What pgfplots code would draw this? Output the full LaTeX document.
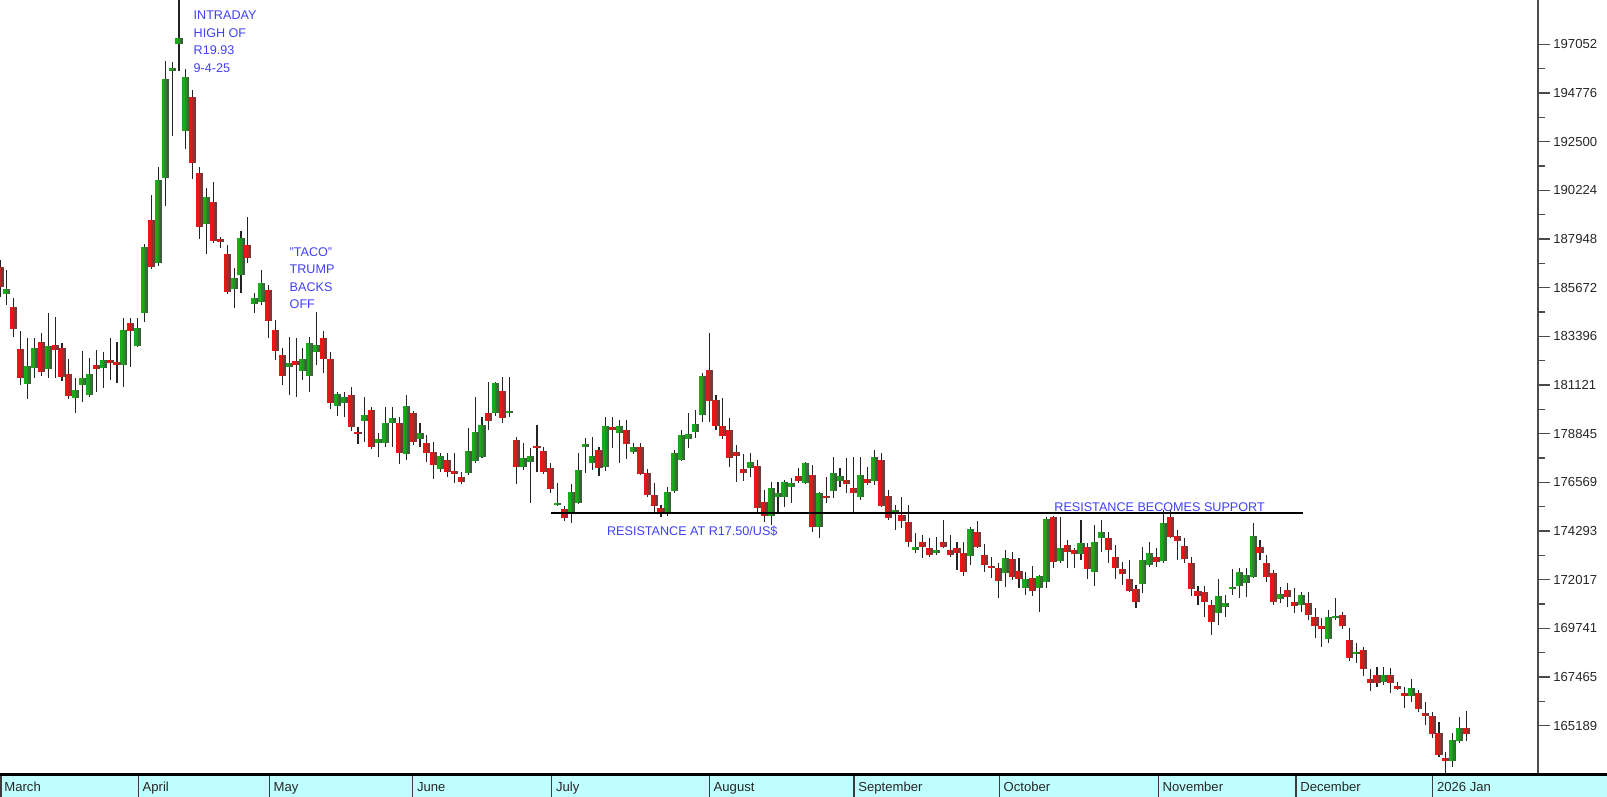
\documentclass[border=0pt]{standalone}
\usepackage{fontspec}
\setmainfont{Liberation Sans}
\usepackage{pgfplots}
\usepackage{pgfplotstable}
\pgfplotsset{compat=1.18}
\definecolor{upC}{RGB}{24,172,24}
\definecolor{dnC}{RGB}{238,20,20}
\definecolor{shadeC}{RGB}{72,72,72}
\definecolor{wickC}{RGB}{35,35,35}
\definecolor{bandC}{RGB}{192,255,255}
\definecolor{annC}{RGB}{64,64,250}
\definecolor{sepC}{RGB}{60,60,60}

\pgfplotstableread{
i o h l c
0 186635 186962 185232 185700
1 185373 186495 184858 185606
2 184765 185186 183362 183736
3 182801 183642 181117 181445
4 181164 183315 180463 182006
5 181912 183315 181445 182848
6 183128 183549 181540 181725
7 181866 184484 181445 182941
8 182988 184297 181445 182754
9 182848 183081 181304 181491
10 181632 182333 180463 180603
11 180510 181445 179808 180884
12 181117 182707 180322 181445
13 180650 182380 180556 181632
14 182053 182754 180790 181866
15 181912 182660 180977 182286
16 182286 183315 181351 182146
17 182193 183128 181211 182053
18 182053 184250 181024 183689
19 184017 184250 181959 183642
20 182941 184250 182894 183783
21 184484 187711 184063 187570
22 188833 190002 186542 186635
23 186822 191311 186700 190703
24 190797 196268 189487 195426
25 195800 196221 192761 195940
26 197063 199300 195800 197343
27 192994 195894 192153 195519
28 194584 194912 190750 191498
29 191031 191311 187944 188505
30 188646 190329 187243 189908
31 189674 190610 187757 187851
32 187944 188038 187524 187804
33 187243 187664 185373 185466
34 185606 186588 184718 186121
35 186261 188318 185419 187991
36 187664 188973 186822 187056
37 184905 185419 184484 185186
38 184998 186495 184858 185887
39 185560 185793 183315 184110
40 183689 184157 182286 182707
41 182520 182848 181117 181538
42 181959 183362 180650 182146
43 182240 183315 180556 182053
44 181772 182848 181351 182333
45 181538 183362 180790 183081
46 182660 184531 182053 182988
47 183315 183642 181678 182333
48 182333 182660 179995 180276
49 180135 180790 179668 180697
50 180276 180790 179621 180556
51 180650 181024 178966 179153
52 178920 179153 178359 178826
53 179434 180556 178452 179715
54 179948 180089 178125 178218
55 178405 178873 177751 178592
56 178405 180089 178218 179341
57 179341 180089 178218 179574
58 179341 179621 177423 177938
59 177891 180650 177610 180135
60 179808 179902 178312 178452
61 178592 179341 178218 178873
62 178405 178779 177517 177938
63 177984 178452 176722 177377
64 177190 177938 177049 177797
65 177610 177938 176815 177049
66 177096 177938 176535 176956
67 176815 177049 176490 176582
68 177003 179107 176900 178031
69 177564 180556 177470 178920
70 177751 179621 177704 179247
71 179808 181258 179013 179434
72 179808 181258 179668 181211
73 180837 181491 179341 179574
74 179808 181491 179621 179902
75 178546 178686 176488 177283
76 177283 178405 177143 177704
77 177517 178172 175600 177797
78 178265 179247 177049 178172
79 178031 178218 176960 177049
80 177236 177470 176067 176254
81 175506 176535 175460 175600
82 175319 175459 174758 174898
83 175132 176488 174665 176114
84 175600 177938 175550 177143
85 178218 178639 177003 178359
86 177470 178686 177143 177797
87 178078 178218 176862 177236
88 177283 179621 177096 179200
89 179153 179621 178172 179013
90 178873 179481 177470 179200
91 179013 179481 177657 178359
92 177984 178405 177891 178218
93 178218 178405 176900 176956
94 177003 177190 175880 175974
95 175974 176535 175179 175459
96 175366 175506 174945 175085
97 175085 176348 174992 176114
98 176161 178078 176067 177938
99 177610 179013 177564 178779
100 178592 179808 178172 178826
101 178920 179948 178639 179294
102 179715 181678 179387 181538
103 181819 183549 179387 180369
104 180416 180650 179013 179200
105 179200 180510 178592 178733
106 179013 179574 177283 177704
107 177984 178312 176582 177797
108 177190 177891 176628 177003
109 177236 177938 176815 177517
110 177330 177610 175132 175366
111 175646 176208 174711 174992
112 174992 176582 174571 176301
113 175880 176582 175179 176067
114 175880 176675 175413 176582
115 176348 176769 175600 176535
116 176862 177236 176535 176628
117 176535 177517 176490 177470
118 176909 177377 174244 174477
119 174477 176114 173963 176067
120 175927 176815 175600 175834
121 176161 177751 175834 177003
122 176628 177236 176348 176862
123 176675 177704 176067 176488
124 176301 177751 175179 176067
125 175880 177751 175740 176909
126 176722 177283 176441 176535
127 176628 178078 176441 177751
128 177610 177938 175413 175459
129 175927 176208 174805 174898
130 175132 175506 174337 175272
131 175039 175880 174431 174758
132 174711 175506 173542 173776
133 173402 174197 173262 173542
134 173776 174103 173028 173542
135 173496 173963 173075 173168
136 173262 174010 173168 173402
137 173776 174805 173496 173542
138 173402 174103 173075 173168
139 173496 173776 172467 173262
140 173262 173776 172186 172373
141 173121 174477 172701 174384
142 174244 174758 173496 173542
143 173168 173683 172373 172701
144 172654 173075 172093 172560
145 172560 172794 171158 171952
146 172327 173402 171672 173028
147 172981 173308 171999 172139
148 172420 173028 171625 172046
149 171625 172373 171298 172046
150 172093 172654 171251 171485
151 171625 172240 170503 172186
152 171906 174945 171625 174852
153 174945 174990 172560 172841
154 172888 174945 172794 173496
155 173636 173870 172560 173308
156 173402 173496 172560 173215
157 173215 174805 172934 173729
158 173542 173729 172046 172514
159 172373 174571 171719 173776
160 173963 174805 173308 174244
161 173963 174244 172794 173402
162 173075 173636 172046 172560
163 172514 172841 171765 172280
164 172046 172934 171438 171485
165 171578 171765 170690 170970
166 171812 173542 171391 172934
167 172701 173776 172607 173262
168 173075 173496 172607 172841
169 172888 175272 172794 174665
170 174945 175272 173963 174010
171 174057 174337 172934 173823
172 173589 173963 172794 172981
173 172794 173075 171251 171578
174 171485 171719 170830 171251
175 171438 171719 170269 170970
176 170830 171064 169427 170035
177 170456 172046 169895 171251
178 170737 171298 170269 170924
179 171578 172514 171298 171672
180 171719 172560 171158 172373
181 171859 172560 171204 172233
182 172139 174665 172100 174057
183 173542 173870 172934 173262
184 172794 173168 171906 172139
185 172327 172467 170830 170970
186 171111 171672 170924 171345
187 171532 171859 170737 171204
188 170970 171625 170456 170783
189 170830 171438 170503 171298
190 170924 171438 170129 170363
191 170269 170690 169287 169848
192 169848 170222 168866 169708
193 169240 170596 169053 170269
194 170222 171158 170129 170310
195 170363 170503 169708 169848
196 169194 169755 168212 168352
197 168539 169053 168118 168632
198 168726 168866 167510 167838
199 167370 167838 166809 167183
200 167557 167931 166996 167183
201 167230 167931 167089 167557
202 167557 167884 166715 167183
203 167043 167230 166856 166902
204 166715 166996 166014 166575
205 166575 167370 166294 166949
206 166715 166856 165827 165967
207 165780 166294 165219 165640
208 165640 165827 164611 164798
209 164845 165359 163723 163816
210 163676 163956 162881 163536
211 163536 164845 163255 164518
212 164471 165593 164377 165079
213 165079 165874 164471 164798
}\candles

\newcommand{\upstrip}[2]{%
\addplot[draw=none, mark=none, forget plot, error bars/.cd, y dir=plus, y explicit, error mark=none, error bar style={line width=0.76pt, draw=#2}]
 table[x expr={\thisrow{c}>\thisrow{o} ? \thisrow{i}#1 : nan}, y=o, y error plus expr={\thisrow{c}-\thisrow{o}}] {\candles};}
\newcommand{\dnstrip}[2]{%
\addplot[draw=none, mark=none, forget plot, error bars/.cd, y dir=plus, y explicit, error mark=none, error bar style={line width=0.76pt, draw=#2}]
 table[x expr={\thisrow{c}<\thisrow{o} ? \thisrow{i}#1 : nan}, y=c, y error plus expr={\thisrow{o}-\thisrow{c}}] {\candles};}

\newcommand{\lblfont}{\fontsize{6.55pt}{7pt}\selectfont}
\newcommand{\annfont}{\fontsize{6.3pt}{7pt}\selectfont}

\begin{document}
\begin{tikzpicture}
\useasboundingbox (0,0) rectangle (803.5pt,398.5pt);
% bottom band
\fill[bandC] (0,0) rectangle (803.5pt,10.5pt);
\draw[sepC, line width=0.75pt] (0.4pt,0) -- (0.4pt,10.5pt);
\foreach \s in {138.3,269.3,412.7,551.7,709.3,854,999.3,1158.3,1295.9,1432.7}{
  \draw[sepC, line width=0.65pt] (\s*0.5pt,0) -- (\s*0.5pt,10.5pt);
}
\foreach \s/\m in {0/March,138.3/April,269.3/May,412.7/June,551.7/July,709.3/August,854/September,999.3/October,1158.3/November,1295.9/December,1432.7/2026 Jan}{
  \node[anchor=base west, inner sep=0pt, font=\lblfont, text=black!85] at (\s*0.5pt+2pt,2.85pt) {\m};
}
\begin{axis}[
  at={(0pt,11.2pt)}, anchor=south west,
  scale only axis, width=768.85pt, height=387.3pt,
  xmin=0, xmax=223.34, ymin=162900, ymax=199120,
  axis x line=none, axis y line*=right,
  y axis line style={line width=0.85pt, black!70},
  xtick=\empty,
  ytick={165189,167465,169741,172017,174293,176569,178845,181121,183396,185672,187948,190224,192500,194776,197052},
  yticklabels={165189,167465,169741,172017,174293,176569,178845,181121,183396,185672,187948,190224,192500,194776,197052},
  minor ytick={166327,168603,170879,173155,175431,177707,179983,182258,184534,186810,189086,191362,193638,195914},
  scaled y ticks=false,
  tick align=outside,
  major tick length=6.15pt, minor tick length=3.65pt,
  tick style={black!70, line width=0.65pt},
  yticklabel style={font=\lblfont, anchor=west, inner sep=0pt, text=black!85, xshift=1.5pt},
  enlargelimits=false,
]
% wicks
\addplot[draw=none, mark=none, forget plot, error bars/.cd, y dir=plus, y explicit, error mark=none, error bar style={line width=0.55pt, draw=wickC}]
 table[x=i, y=l, y error plus expr={\thisrow{h}-\thisrow{l}}] {\candles};
% bodies
\upstrip{-0.4067}{upC}
\upstrip{-0.2033}{upC}
\upstrip{+0}{upC!75!shadeC}
\upstrip{+0.2033}{upC!45!shadeC}
\upstrip{+0.4067}{upC!20!shadeC}
\dnstrip{-0.4067}{dnC}
\dnstrip{-0.2033}{dnC}
\dnstrip{+0}{dnC!75!shadeC}
\dnstrip{+0.2033}{dnC!45!shadeC}
\dnstrip{+0.4067}{dnC!20!shadeC}
\node[anchor=base west, inner sep=0pt, font=\annfont, text=annC] at (axis cs:153.09,175179) {RESISTANCE BECOMES SUPPORT};
\addplot[black, line width=1pt, forget plot] coordinates {(80,175150) (189.3,175150)};
\end{axis}
\draw[black, line width=1.35pt] (0,11.2pt) -- (803.5pt,11.2pt);
% annotations
\begin{scope}[every node/.style={anchor=base west, inner sep=0pt, font=\annfont, text=annC}]
\node at (96.65pt,388.5pt) {INTRADAY};
\node at (96.65pt,379.85pt) {HIGH OF};
\node at (96.65pt,371pt) {R19.93};
\node at (96.65pt,362.35pt) {9-4-25};
\node at (144.65pt,270.15pt) {"TACO"};
\node at (144.65pt,261.5pt) {TRUMP};
\node at (144.65pt,252.65pt) {BACKS};
\node at (144.65pt,244pt) {OFF};
\node at (303.35pt,130.5pt) {RESISTANCE AT R17.50/US\$};
\end{scope}
\end{tikzpicture}
\end{document}
